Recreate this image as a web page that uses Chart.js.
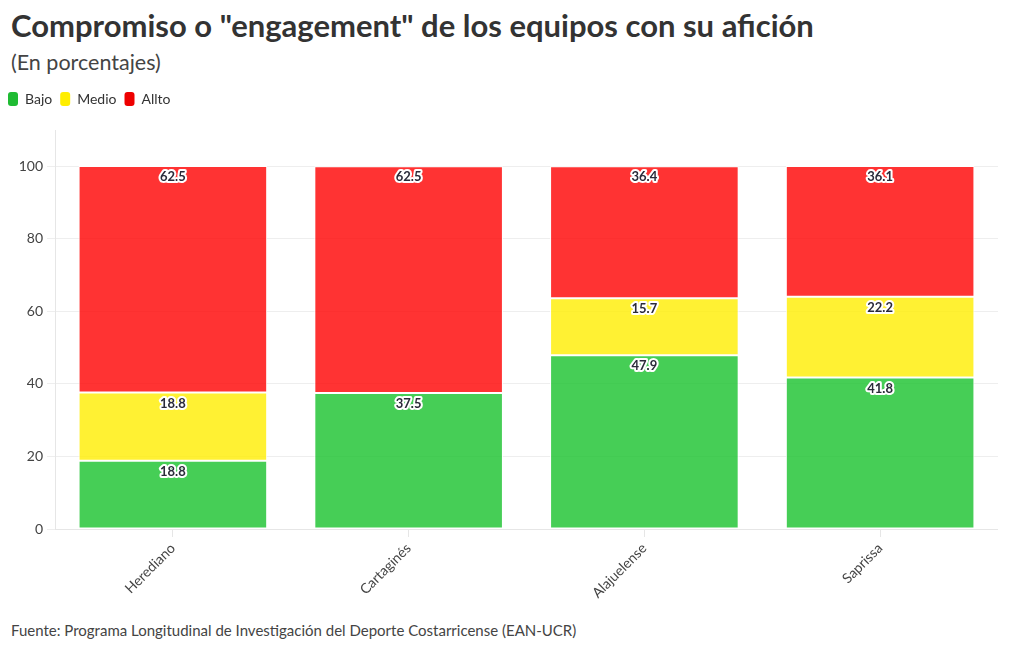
<!DOCTYPE html>
<html lang="es">
<head>
    <meta charset="UTF-8">
    <title>Compromiso o "engagement" de los equipos con su afición</title>
    <script src="https://cdn.jsdelivr.net/npm/chart.js"></script>
    <style>
        body {
            margin: 0;
            background: white;
            font-family: Lato, "Noto Sans", sans-serif;
            color: #333;
            width: 1020px;
            height: 650px;
            position: relative;
            overflow: hidden;
        }
        h1 {
            position: absolute;
            left: 11px;
            top: 6px;
            margin: 0;
            font-size: 31px;
            font-weight: bold;
            color: #333;
        }
        .sub {
            position: absolute;
            left: 11px;
            top: 49px;
            font-size: 21.5px;
            color: #444;
        }
        .chart-box {
            position: absolute;
            left: 0;
            top: 84px;
            width: 998px;
            height: 526px;
        }
        .fuente {
            position: absolute;
            left: 11px;
            top: 621px;
            font-size: 15px;
            color: #444;
        }
    </style>
</head>
<body>
    <h1>Compromiso o "engagement" de los equipos con su afición</h1>
    <div class="sub">(En porcentajes)</div>
    <div class="chart-box"><canvas id="grafico"></canvas></div>
    <div class="fuente">Fuente: Programa Longitudinal de Investigación del Deporte Costarricense (EAN-UCR)</div>
    <script>
        const equipos = ['Herediano', 'Cartaginés', 'Alajuelense', 'Saprissa'];
        const bajo = [18.8, 37.5, 47.9, 41.8];
        const medio = [18.8, null, 15.7, 22.2];
        const alto = [62.5, 62.5, 36.4, 36.1];
        const yTicks = [0, 20, 40, 60, 80, 100];

        const FONT = 'Lato, "Noto Sans", sans-serif';

        // etiquetas con contorno blanco arriba de cada segmento
        const etiquetas = {
            id: 'etiquetas',
            afterDatasetsDraw(chart) {
                const c = chart.ctx;
                c.save();
                c.font = 'bold 13px ' + FONT;
                c.textAlign = 'center';
                c.textBaseline = 'middle';
                c.lineJoin = 'round';
                chart.data.datasets.forEach((ds, i) => {
                    const meta = chart.getDatasetMeta(i);
                    meta.data.forEach((bar, j) => {
                        const v = ds.data[j];
                        if (v == null) return;
                        const txt = v.toFixed(1);
                        c.lineWidth = 4;
                        c.strokeStyle = 'white';
                        c.strokeText(txt, bar.x, bar.y + 11);
                        c.fillStyle = '#2b2b3a';
                        c.fillText(txt, bar.x, bar.y + 11);
                    });
                });
                c.restore();
            }
        };

        // un poco de aire debajo de la leyenda
        const espacioLeyenda = {
            id: 'espacioLeyenda',
            afterInit(chart) {
                const fit = chart.legend.fit;
                chart.legend.fit = function () {
                    fit.call(this);
                    this.height += 14;
                };
            }
        };

        const legendColors = ['#1fbb33', '#ffee00', '#ee0000'];

        new Chart(document.getElementById('grafico'), {
            type: 'bar',
            data: {
                labels: equipos,
                datasets: [
                    { label: 'Bajo', data: bajo, backgroundColor: 'rgba(24,194,44,0.8)' },
                    { label: 'Medio', data: medio, backgroundColor: 'rgba(255,238,0,0.8)' },
                    { label: 'Allto', data: alto, backgroundColor: 'rgba(255,0,0,0.8)' }
                ].map(d => Object.assign(d, {
                    borderColor: 'white',
                    borderWidth: 1,
                    borderSkipped: false,
                    categoryPercentage: 0.8,
                    barPercentage: 1
                }))
            },
            options: {
                responsive: true,
                maintainAspectRatio: false,
                animation: false,
                plugins: {
                    tooltip: { enabled: false },
                    legend: {
                        position: 'top',
                        align: 'start',
                        labels: {
                            font: { family: FONT, size: 14 },
                            color: '#333',
                            boxWidth: 10,
                            boxHeight: 14,
                            padding: 8,
                            generateLabels(chart) {
                                return chart.data.datasets.map((d, i) => ({
                                    text: d.label,
                                    fillStyle: legendColors[i],
                                    strokeStyle: legendColors[i],
                                    lineWidth: 0,
                                    borderRadius: 3,
                                    datasetIndex: i,
                                    fontColor: '#333'
                                }));
                            }
                        }
                    }
                },
                scales: {
                    x: {
                        stacked: true,
                        afterFit(scale) { scale.height = 81; },
                        grid: { offset: false, drawOnChartArea: false, color: '#e6e6e6', tickLength: 8 },
                        border: { color: '#e6e6e6' },
                        ticks: {
                            font: { family: FONT, size: 14 },
                            color: '#444',
                            minRotation: 45,
                            maxRotation: 45
                        }
                    },
                    y: {
                        stacked: true,
                        min: 0,
                        max: 110,
                        afterBuildTicks(scale) {
                            scale.ticks = yTicks.map(v => ({ value: v }));
                        },
                        afterFit(scale) { scale.width = 55; },
                        grid: { color: '#eeeeee', tickLength: 8 },
                        border: { color: '#e6e6e6' },
                        ticks: {
                            font: { family: FONT, size: 14 },
                            color: '#444',
                            padding: 4
                        }
                    }
                }
            },
            plugins: [etiquetas, espacioLeyenda]
        });
    </script>
</body>
</html>
